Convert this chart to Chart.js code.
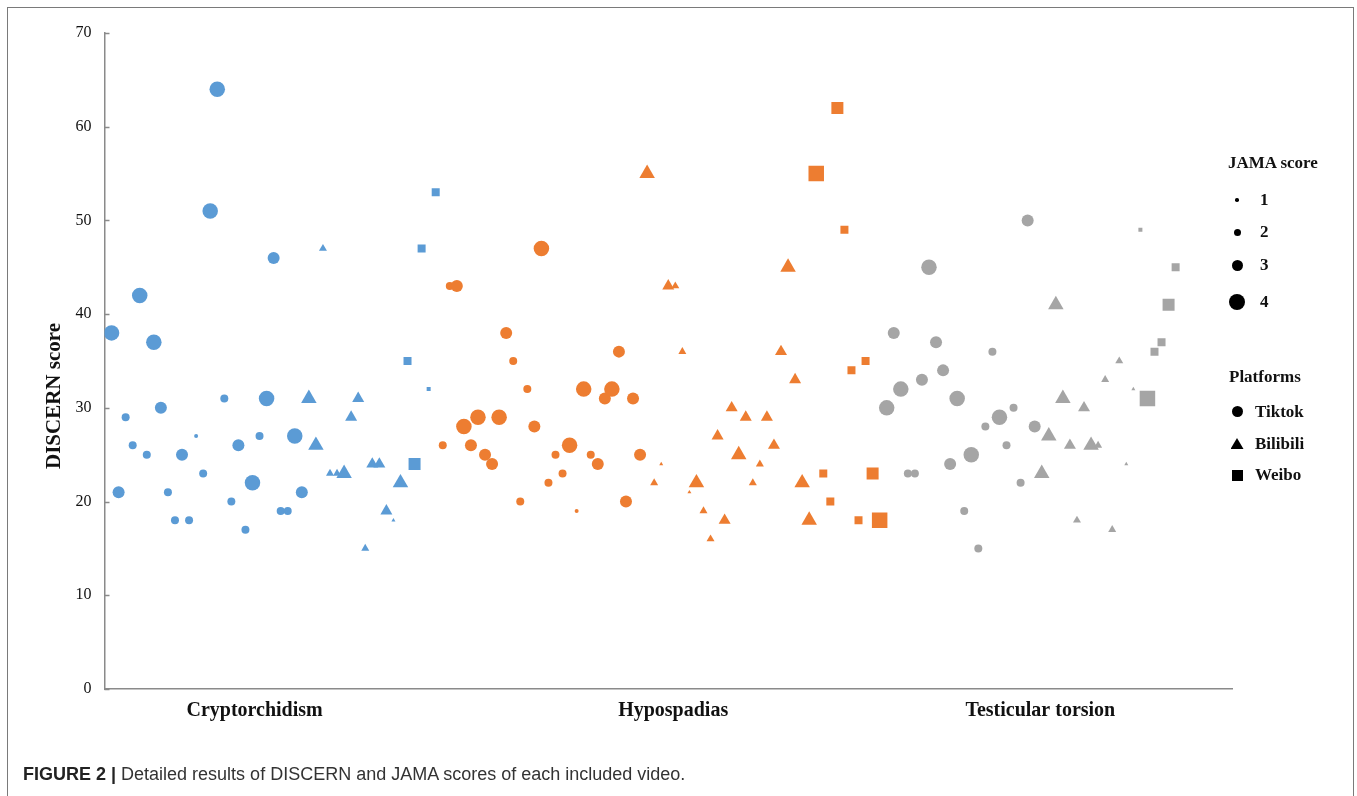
<!DOCTYPE html>
<html>
<head>
<meta charset="utf-8">
<script src="https://cdn.jsdelivr.net/npm/chart.js@4.4.1/dist/chart.umd.min.js"></script>
<style>
    html, body { margin: 0; padding: 0; background: #fff; }
    #page { position: relative; width: 1357px; height: 796px; overflow: hidden; }
    #frame { position: absolute; left: 7px; top: 7px; width: 1347px; height: 820px;
             border: 1.5px solid #7a7a7a; box-sizing: border-box; }
    #chartBox { position: absolute; left: 0; top: 0; width: 1357px; height: 796px; }
    .serif { font-family: 'Liberation Serif', 'Times New Roman', serif; font-weight: bold; color: #111; }
    .lg { position: absolute; font-size: 17px; line-height: 20px; white-space: nowrap; }
    .mk { position: absolute; background: #000; }
    #yTitle { position: absolute; left: 53px; top: 396px; font-size: 21px; white-space: nowrap;
              transform: translate(-50%, -50%) rotate(-90deg); }
    #caption { position: absolute; left: 23px; top: 763px; font-family: 'Liberation Sans', Arial, sans-serif;
               font-size: 18px; line-height: 22px; color: #333; white-space: nowrap; }
    #caption b { color: #222; }
</style>
</head>
<body>
<div id="page">
    <div id="chartBox"><canvas id="scoreChart"></canvas></div>
    <div id="frame"></div>
    <div id="yTitle" class="serif">DISCERN score</div>
    <div id="legend"></div>
    <div id="caption"><b>FIGURE 2 |</b> Detailed results of DISCERN and JAMA scores of each included video.</div>
</div>
<script>
"use strict";

// Категории и оформление
const diseases = ['Cryptorchidism', 'Hypospadias', 'Testicular torsion'];
const diseaseColors = ['#5b9bd5', '#ed7d31', '#a5a5a5'];
const platforms = ['Tiktok', 'Bilibili', 'Weibo'];
const platformStyles = ['circle', 'triangle', 'rect'];
const jamaLevels = [1, 2, 3, 4];

// Подписи оси X (позиции по номеру видео)
const categoryTickPos = [21.3, 80.7, 132.8];
const yTicks = [0, 10, 20, 30, 40, 50, 60, 70];

// DISCERN и JAMA: крипторхизм
const cryptoTiktok = [38, 21, 29, 26, 42, 25, 37, 30, 21, 18, 25, 18, 27, 23, 51, 64, 31, 20, 26, 17, 22, 27, 31, 46, 19, 19, 27, 21];
const cryptoTiktokJama = [4, 3, 2, 2, 4, 2, 4, 3, 2, 2, 3, 2, 1, 2, 4, 4, 2, 2, 3, 2, 4, 2, 4, 3, 2, 2, 4, 3];
const cryptoBilibili = [31, 26, 47, 23, 23, 23, 29, 31, 15, 24, 24, 19, 18, 22];
const cryptoBilibiliJama = [4, 4, 2, 2, 2, 4, 3, 3, 2, 3, 3, 3, 1, 4];
const cryptoWeibo = [35, 24, 47, 32, 53];
const cryptoWeiboJama = [2, 3, 2, 1, 2];

// гипоспадия
const hypoTiktok = [26, 43, 43, 28, 26, 29, 25, 24, 29, 38, 35, 20, 32, 28, 47, 22, 25, 23, 26, 19, 32, 25, 24, 31, 32, 36, 20, 31, 25];
const hypoTiktokJama = [2, 2, 3, 4, 3, 4, 3, 3, 4, 3, 2, 2, 2, 3, 4, 2, 2, 2, 4, 1, 4, 2, 3, 3, 4, 3, 3, 3, 3];
const hypoBilibili = [55, 22, 24, 43, 43, 36, 21, 22, 19, 16, 27, 18, 30, 25, 29, 22, 24, 29, 26, 36, 45, 33, 22, 18];
const hypoBilibiliJama = [4, 2, 1, 3, 2, 2, 1, 4, 2, 2, 3, 3, 3, 4, 3, 2, 2, 3, 3, 3, 4, 3, 4, 4];
const hypoWeibo = [55, 23, 20, 62, 49, 34, 18, 35, 23, 18];
const hypoWeiboJama = [4, 2, 2, 3, 2, 2, 2, 2, 3, 4];

// перекрут яичка
const torsionTiktok = [30, 38, 32, 23, 23, 33, 45, 37, 34, 24, 31, 19, 25, 15, 28, 36, 29, 26, 30, 22, 50, 28];
const torsionTiktokJama = [4, 3, 4, 2, 2, 3, 4, 3, 3, 3, 4, 2, 4, 2, 2, 2, 4, 2, 2, 2, 3, 3];
const torsionBilibili = [23, 27, 41, 31, 26, 18, 30, 26, 26, 33, 17, 35, 24, 32];
const torsionBilibiliJama = [4, 4, 4, 4, 3, 2, 3, 4, 2, 2, 2, 2, 1, 1];
const torsionWeibo = [49, 31, 36, 37, 41, 45];
const torsionWeiboJama = [1, 4, 2, 2, 3, 2];

const groups = [
    [[cryptoTiktok, cryptoTiktokJama], [cryptoBilibili, cryptoBilibiliJama], [cryptoWeibo, cryptoWeiboJama]],
    [[hypoTiktok, hypoTiktokJama], [hypoBilibili, hypoBilibiliJama], [hypoWeibo, hypoWeiboJama]],
    [[torsionTiktok, torsionTiktokJama], [torsionBilibili, torsionBilibiliJama], [torsionWeibo, torsionWeiboJama]]
];

// Видимый размер маркера (диаметр / сторона) для JAMA 1..4
const markerSize = [4, 8, 12, 15.5];

function radiusFor(jama, style) {
    const d = markerSize[jama - 1];
    if (style === 'triangle') return d / Math.sqrt(3);
    if (style === 'rect') return d / Math.SQRT2;
    return d / 2;
}

// Сборка наборов данных: видео идут подряд по оси X
const datasets = [];
let videoNo = 1;
groups.forEach((platformSets, d) => {
    platformSets.forEach(([values, jama], p) => {
        const style = platformStyles[p];
        datasets.push({
            label: diseases[d] + ' - ' + platforms[p],
            data: values.map((v, k) => ({ x: videoNo + k, y: v })),
            pointStyle: style,
            pointRadius: jama.map(j => radiusFor(j, style)),
            pointHoverRadius: jama.map(j => radiusFor(j, style)),
            backgroundColor: diseaseColors[d],
            borderWidth: 0,
            showLine: false
        });
        videoNo += values.length;
    });
});

const axisColor = '#8a8a8a';
const serifFont = "'Liberation Serif', 'Times New Roman', serif";

// Внутренние засечки оси Y
const innerTicks = {
    id: 'innerTicks',
    afterDraw(chart) {
        const ctx = chart.ctx;
        const yScale = chart.scales.y;
        const x0 = chart.chartArea.left;
        ctx.save();
        ctx.strokeStyle = axisColor;
        ctx.lineWidth = 1.5;
        yTicks.forEach(v => {
            const y = Math.round(yScale.getPixelForValue(v)) + 0.5;
            ctx.beginPath();
            ctx.moveTo(x0, y);
            ctx.lineTo(x0 + 5, y);
            ctx.stroke();
        });
        ctx.restore();
    }
};

new Chart(document.getElementById('scoreChart').getContext('2d'), {
    type: 'scatter',
    data: { datasets: datasets },
    options: {
        responsive: true,
        maintainAspectRatio: false,
        animation: false,
        layout: { padding: { left: 0, top: 33, right: 125, bottom: 0 } },
        plugins: {
            legend: { display: false },
            tooltip: { enabled: false }
        },
        scales: {
            x: {
                type: 'linear',
                min: 0,
                max: 160,
                afterFit: s => { s.height = 107; },
                afterBuildTicks: s => { s.ticks = categoryTickPos.map(v => ({ value: v })); },
                grid: { display: false, drawTicks: false },
                border: { display: true, color: axisColor, width: 1.5 },
                ticks: {
                    autoSkip: false,
                    maxRotation: 0,
                    padding: 10,
                    color: '#111',
                    font: { family: serifFont, size: 20, weight: 'bold' },
                    callback: (value, index) => diseases[index]
                }
            },
            y: {
                min: 0,
                max: 70,
                afterFit: s => { s.width = 104.5; },
                afterBuildTicks: s => { s.ticks = yTicks.map(v => ({ value: v })); },
                grid: { display: false, drawTicks: false },
                border: { display: true, color: axisColor, width: 1.5 },
                ticks: {
                    padding: 13,
                    color: '#111',
                    font: { family: serifFont, size: 16 }
                }
            }
        }
    },
    plugins: [innerTicks]
});

// Легенда справа
function buildLegend() {
    const legend = document.getElementById('legend');
    const markerX = 1237;
    let html = '';
    html += `<div class="lg serif" style="left:1228px;top:153px">JAMA score</div>`;
    const jamaY = [200, 232, 265, 302];
    const jamaDot = [3.5, 7, 11, 16];
    jamaLevels.forEach((lvl, i) => {
        const d = jamaDot[i];
        html += `<div class="mk" style="left:${markerX - d / 2}px;top:${jamaY[i] - d / 2}px;width:${d}px;height:${d}px;border-radius:50%"></div>`;
        html += `<div class="lg serif" style="left:1260px;top:${jamaY[i] - 10}px">${lvl}</div>`;
    });
    html += `<div class="lg serif" style="left:1229px;top:367px">Platforms</div>`;
    const platY = [411.5, 444, 475];
    platforms.forEach((name, i) => {
        let shape;
        if (platformStyles[i] === 'circle') {
            shape = `left:${markerX - 5.5}px;top:${platY[i] - 5.5}px;width:11px;height:11px;border-radius:50%`;
        } else if (platformStyles[i] === 'triangle') {
            shape = `left:${markerX - 6.5}px;top:${platY[i] - 6}px;width:13px;height:11px;clip-path:polygon(50% 0,100% 100%,0 100%)`;
        } else {
            shape = `left:${markerX - 5.5}px;top:${platY[i] - 5.5}px;width:11px;height:11px`;
        }
        html += `<div class="mk" style="${shape}"></div>`;
        html += `<div class="lg serif" style="left:1255px;top:${platY[i] - 10}px">${name}</div>`;
    });
    legend.innerHTML = html;
}

buildLegend();
</script>
</body>
</html>
